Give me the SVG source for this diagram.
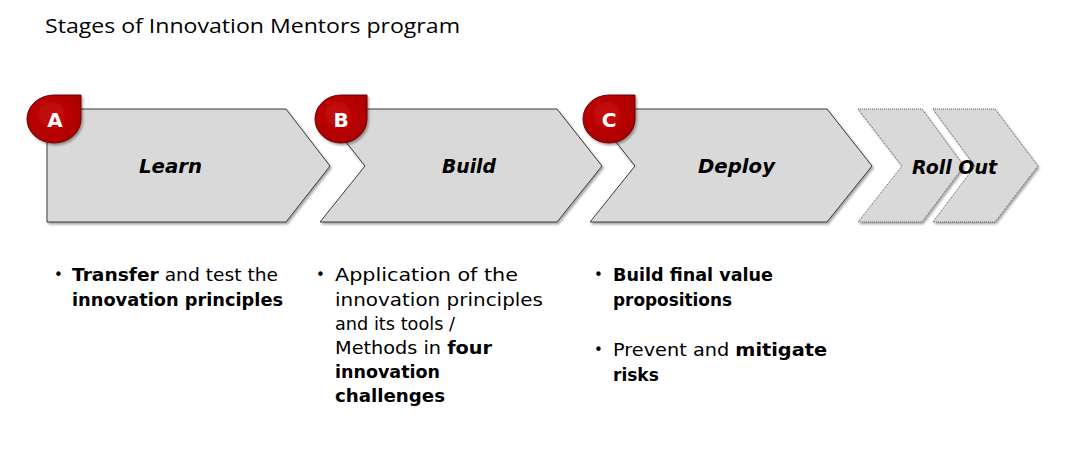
<svg xmlns="http://www.w3.org/2000/svg" width="1066" height="460" viewBox="0 0 1066 460">
  <defs>
    <filter id="sh" x="-10%" y="-10%" width="120%" height="130%">
      <feDropShadow dx="1.5" dy="2" stdDeviation="1.2" flood-color="#000" flood-opacity="0.35"/>
    </filter>
    <radialGradient id="red" cx="0.45" cy="0.4" r="0.7">
      <stop offset="0" stop-color="#C80A0A"/>
      <stop offset="1" stop-color="#A80000"/>
    </radialGradient>
  </defs>
  <style>
    .stage { fill: #D9D9D9; stroke: #3A3A3A; stroke-width: 1; filter: url(#sh); }
    .dotted { fill: #D9D9D9; stroke: #555; stroke-width: 1; stroke-dasharray: 1 1; filter: url(#sh); }
    .badge { fill: url(#red); stroke: #6E0000; stroke-width: 1; filter: url(#sh); }
    .blabel { font-family: "DejaVu Sans", sans-serif; font-weight: bold; font-size: 20px; fill: #fff; text-anchor: middle; }
    .slabel { font-family: "DejaVu Sans", sans-serif; font-weight: bold; font-style: italic; font-size: 19px; fill: #000; }
    .title { font-family: "Open Sans", "Liberation Sans", sans-serif; font-size: 19.5px; fill: #000; }
    .body { font-family: "DejaVu Sans", sans-serif; font-size: 17px; fill: #000; }
    .b { font-weight: bold; }
    .bullet { font-family: "DejaVu Sans", sans-serif; font-size: 15px; fill: #000; }
  </style>

  <text class="title" x="45" y="33" textLength="415" lengthAdjust="spacingAndGlyphs">Stages of Innovation Mentors program</text>

  <g id="connectors"></g>

  <g id="stage-roll-out">
    <polygon class="dotted" points="858,109 922,109 964,166 922,222 858,222 902,166"/>
    <polygon class="dotted" points="933,109 995,109 1038,166 995,222 933,222 975,166"/>
    <text class="slabel" x="912" y="174" textLength="85" lengthAdjust="spacingAndGlyphs">Roll Out</text>
  </g>

  <g id="stage-deploy">
    <polygon class="stage" points="590,109 827,109 872,166 827,222 590,222 635,166"/>
    <text class="slabel" x="698" y="173" textLength="77" lengthAdjust="spacingAndGlyphs">Deploy</text>
  </g>

  <g id="stage-build">
    <polygon class="stage" points="320,109 557,109 602,166 557,222 320,222 365,166"/>
    <text class="slabel" x="442" y="173" textLength="54" lengthAdjust="spacingAndGlyphs">Build</text>
  </g>

  <g id="stage-learn">
    <polygon class="stage" points="47,109 286,109 330,166 286,222 47,222"/>
    <text class="slabel" x="139" y="173" textLength="63" lengthAdjust="spacingAndGlyphs">Learn</text>
  </g>

  <g id="badge-a">
    <path class="badge" d="M54,95 L81,95 L81,119 A27,24 0 1 1 54,95 Z"/>
    <text class="blabel" x="55" y="127">A</text>
  </g>
  <g id="badge-b">
    <path class="badge" d="M341,95 L367,95 L367,119 A26,24 0 1 1 341,95 Z"/>
    <text class="blabel" x="341" y="127">B</text>
  </g>
  <g id="badge-c">
    <path class="badge" d="M609,95 L635,95 L635,119 A26,24 0 1 1 609,95 Z"/>
    <text class="blabel" x="609" y="127">C</text>
  </g>

  <g id="text-learn">
    <text class="bullet" x="54" y="280">•</text>
    <text class="body" x="72" y="281" textLength="206" lengthAdjust="spacingAndGlyphs"><tspan class="b">Transfer</tspan> and test the</text>
    <text class="body b" x="72" y="306" textLength="211" lengthAdjust="spacingAndGlyphs">innovation principles</text>
  </g>

  <g id="text-build">
    <text class="bullet" x="316" y="280">•</text>
    <text class="body" x="335" y="281" textLength="183" lengthAdjust="spacingAndGlyphs">Application of the</text>
    <text class="body" x="335" y="306" textLength="208" lengthAdjust="spacingAndGlyphs">innovation principles</text>
    <text class="body" x="335" y="330" textLength="120" lengthAdjust="spacingAndGlyphs">and its tools /</text>
    <text class="body" x="335" y="354" textLength="157" lengthAdjust="spacingAndGlyphs">Methods in <tspan class="b">four</tspan></text>
    <text class="body b" x="335" y="378" textLength="105" lengthAdjust="spacingAndGlyphs">innovation</text>
    <text class="body b" x="335" y="402" textLength="110" lengthAdjust="spacingAndGlyphs">challenges</text>
  </g>

  <g id="text-deploy">
    <text class="bullet" x="594" y="280">•</text>
    <text class="body b" x="613" y="281" textLength="160" lengthAdjust="spacingAndGlyphs">Build final value</text>
    <text class="body b" x="613" y="306" textLength="119" lengthAdjust="spacingAndGlyphs">propositions</text>
    <text class="bullet" x="594" y="355">•</text>
    <text class="body" x="613" y="356" textLength="214" lengthAdjust="spacingAndGlyphs">Prevent and <tspan class="b">mitigate</tspan></text>
    <text class="body b" x="613" y="381">risks</text>
  </g>
</svg>
